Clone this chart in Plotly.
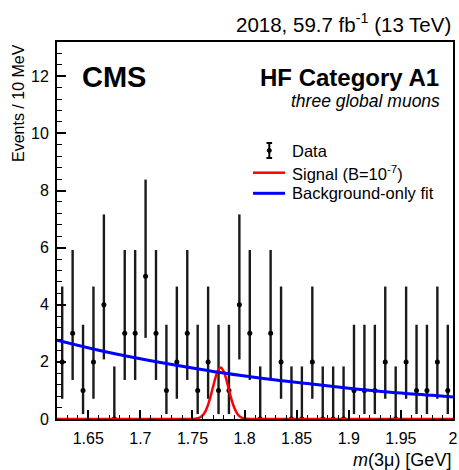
import plotly.graph_objects as go

# Trimuon invariant-mass spectrum, 10 MeV bins
bin_centers = [1.625, 1.635, 1.645, 1.655, 1.665, 1.675, 1.685, 1.695, 1.705, 1.715,
               1.725, 1.735, 1.745, 1.755, 1.765, 1.775, 1.785, 1.795, 1.805, 1.815,
               1.825, 1.835, 1.845, 1.855, 1.865, 1.875, 1.885, 1.895, 1.905, 1.915,
               1.925, 1.935, 1.945, 1.955, 1.965, 1.975, 1.985, 1.995]
counts = [2, 3, 1, 2, 4, 0, 3, 3, 5, 3,
          1, 2, 3, 1, 2, 1, 1, 4, 3, 0,
          3, 2, 0, 0, 2, 0, 0, 0, 1, 1,
          1, 2, 0, 2, 1, 1, 2, 1]

# Poisson (Garwood) 68% intervals per count
poisson_lo = {0: 0.0, 1: 0.173, 2: 0.708, 3: 1.367, 4: 2.086, 5: 2.840}
poisson_hi = {0: 1.841, 1: 3.300, 2: 4.638, 3: 5.918, 4: 7.163, 5: 8.382}

# Background-only fit curve
bkg_mass = [1.62, 1.66, 1.70, 1.74, 1.78, 1.82, 1.86, 1.90, 1.94, 1.98, 2.00]
bkg_events = [2.76, 2.41, 2.11, 1.85, 1.61, 1.41, 1.24, 1.08, 0.94, 0.83, 0.77]

# Signal shape for B = 1e-7
sig_mass = [1.62, 1.7475, 1.7500, 1.7525, 1.7550, 1.7575, 1.7600, 1.7625, 1.7650,
            1.7675, 1.7700, 1.7725, 1.7750, 1.7770, 1.7800, 1.7825, 1.7850, 1.7875,
            1.7900, 1.7925, 1.7950, 1.7975, 1.8000, 1.8025, 1.8050, 1.8075, 2.00]
sig_events = [0.0, 0.0007, 0.0028, 0.0087, 0.0244, 0.0613, 0.138, 0.278, 0.501,
              0.807, 1.165, 1.503, 1.737, 1.80, 1.662, 1.375, 1.018, 0.676,
              0.401, 0.213, 0.101, 0.0429, 0.0164, 0.0056, 0.0017, 0.0004, 0.0]

X_RANGE = [1.62, 2.0]
Y_RANGE = [0, 13.2]

FONT = "Liberation Sans, Arial, Helvetica, sans-serif"

# plot-frame geometry in pixels (for placing text around the frame)
L, R, T, B = 57, 453, 42, 419
W, H = 459, 470


def px(x):
    return (x - L) / (R - L)


def py(y):
    return (B - y) / (B - T)


err_plus = [poisson_hi[n] - n for n in counts]
err_minus = [n - poisson_lo[n] for n in counts]

fig = go.Figure()

fig.add_trace(go.Scatter(
    x=bin_centers, y=counts, mode="markers",
    marker=dict(color="black", size=5, symbol="circle"),
    error_y=dict(type="data", symmetric=False, array=err_plus, arrayminus=err_minus,
                 color="#1a1a1a", thickness=2.4, width=0),
    showlegend=False, hoverinfo="skip",
))

fig.add_trace(go.Scatter(
    x=sig_mass, y=sig_events, mode="lines", line=dict(color="#ff0000", width=2.5, shape="spline"),
    showlegend=False, hoverinfo="skip",
))

fig.add_trace(go.Scatter(
    x=bkg_mass, y=bkg_events, mode="lines", line=dict(color="#0000ff", width=3, shape="spline"),
    showlegend=False, hoverinfo="skip",
))

axis_common = dict(
    showline=True, linecolor="black", linewidth=2, mirror=True,
    ticks="inside", tickcolor="black", tickwidth=1.5,
    showgrid=False, zeroline=False,
    tickfont=dict(family=FONT, size=16, color="black"),
)

fig.update_xaxes(
    range=X_RANGE, tickvals=[1.65, 1.7, 1.75, 1.8, 1.85, 1.9, 1.95, 2.0],
    ticktext=["1.65", "1.7", "1.75", "1.8", "1.85", "1.9", "1.95", "2"],
    ticklen=9, ticklabelstandoff=4,
    minor=dict(dtick=0.01, tick0=1.62, ticks="inside", ticklen=4, tickcolor="black", tickwidth=1.2),
    **axis_common,
)
fig.update_yaxes(
    range=Y_RANGE, tickvals=[0, 2, 4, 6, 8, 10, 12],
    ticklen=9, ticklabelstandoff=3,
    minor=dict(dtick=0.4, tick0=0, ticks="inside", ticklen=5, tickcolor="black", tickwidth=1.2),
    **axis_common,
)

annotations = [
    dict(x=px(R), y=py(23), text="2018, 59.7 fb<sup>-1</sup> (13 TeV)",
         xanchor="right", yanchor="middle", font=dict(size=20.5)),
    dict(x=px(80), y=py(77), text="<b>CMS</b>",
         xanchor="left", yanchor="middle", font=dict(size=29)),
    dict(x=px(441), y=py(77), text="<b>HF Category A1</b>",
         xanchor="right", yanchor="middle", font=dict(size=24)),
    dict(x=px(442), y=py(101), text="<i>three global muons</i>",
         xanchor="right", yanchor="middle", font=dict(size=17.5)),
    dict(x=px(290), y=py(150.7), text="Data",
         xanchor="left", yanchor="middle", font=dict(size=16.5)),
    dict(x=px(290), y=py(172.7), text="Signal (B=10<sup>-7</sup>)",
         xanchor="left", yanchor="middle", font=dict(size=16.5)),
    dict(x=px(290), y=py(193.3), text="Background-only fit",
         xanchor="left", yanchor="middle", font=dict(size=16.5)),
    dict(x=px(R), y=py(460), text="<i>m</i>(3μ) [GeV]",
         xanchor="right", yanchor="middle", font=dict(size=18)),
    dict(x=px(18), y=py(42), text="Events / 10 MeV", textangle=-90,
         xanchor="center", yanchor="top", font=dict(size=16)),
]
for a in annotations:
    a.update(xref="paper", yref="paper", showarrow=False)
    a["font"].update(family=FONT, color="black")

# legend symbols
shapes = [
    dict(type="line", x0=px(253), x1=px(285), y0=py(172.7), y1=py(172.7),
         line=dict(color="#ff0000", width=2.5)),
    dict(type="line", x0=px(253), x1=px(285), y0=py(193.3), y1=py(193.3),
         line=dict(color="#0000ff", width=3)),
    dict(type="line", x0=px(269.3), x1=px(269.3), y0=py(143), y1=py(158),
         line=dict(color="black", width=2)),
    dict(type="line", x0=px(266.5), x1=px(272.1), y0=py(143), y1=py(143),
         line=dict(color="black", width=2)),
    dict(type="line", x0=px(266.5), x1=px(272.1), y0=py(158), y1=py(158),
         line=dict(color="black", width=2)),
    dict(type="circle", x0=px(267.3), x1=px(271.3), y0=py(148.5), y1=py(152.5),
         fillcolor="black", line=dict(color="black", width=1)),
]
for s in shapes:
    s.update(xref="paper", yref="paper")

fig.update_layout(
    width=W, height=H,
    margin=dict(l=L, r=W - R, t=T, b=H - B, autoexpand=False),
    paper_bgcolor="white", plot_bgcolor="white",
    annotations=annotations, shapes=shapes,
    showlegend=False,
)

fig.write_html("out.html")
